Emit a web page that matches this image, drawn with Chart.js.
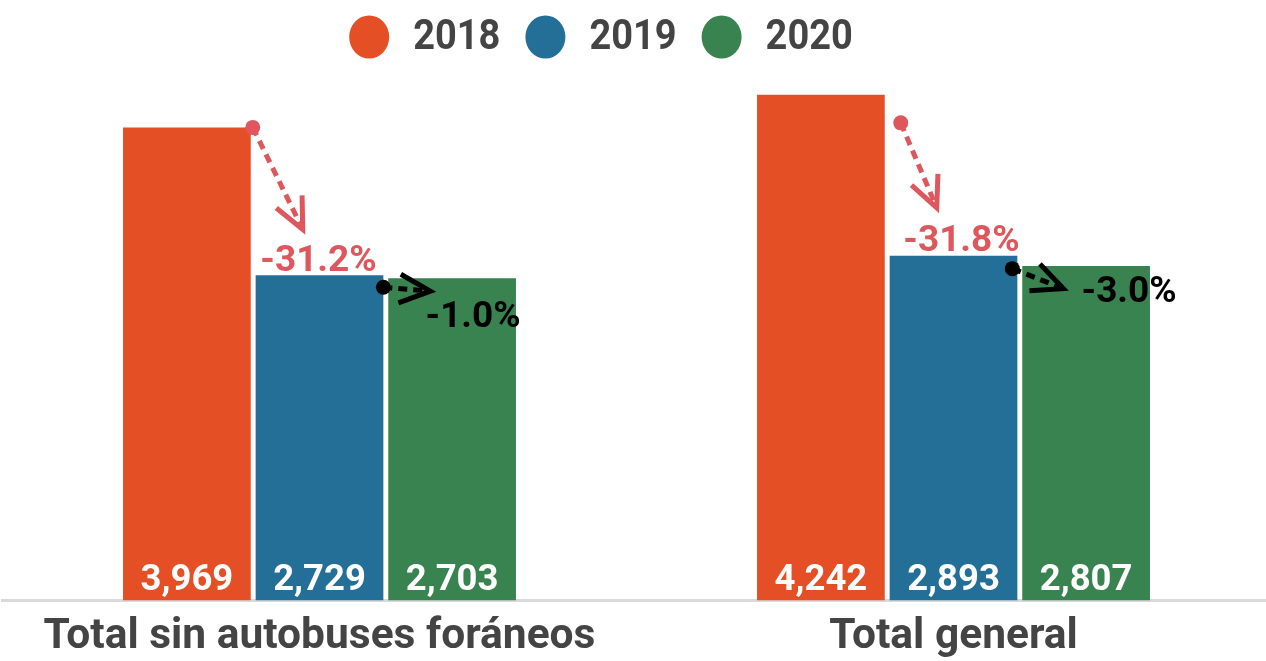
<!DOCTYPE html>
<html><head><meta charset="utf-8">
<script src="https://cdn.jsdelivr.net/npm/chart.js@4"></script>
<style>html,body{margin:0;padding:0;overflow:hidden;background:#fff;} #wrap{width:1272px;height:661px;}</style>
</head><body><div id="wrap"><canvas id="c" width="1272" height="661"></canvas></div>
<script>
const categories = ['Total sin autobuses foráneos', 'Total general'];
const years = ['2018', '2019', '2020'];
const values2018 = [3969, 4242];
const values2019 = [2729, 2893];
const values2020 = [2703, 2807];
const yMin = 0;
const yMax = 4400;

const barColors = ['#E44F25', '#236F97', '#398350'];
const textGray = '#444444';
const arrowColors = ['#DD575D', '#000000'];
// offsets (styling/layout only) for change annotations: [category][transition]
const arrowLayout = [
  [{dot:[2,0], tip:[50,102], label:[-1,-4]}, {dot:[0,12], tip:[47,4], label:[21,49]}],
  [{dot:[16,28], tip:[36,85], label:[8,-5]}, {dot:[-5,13], tip:[51,20], label:[43,36]}]
];
const FONT = 'Roboto, "Liberation Sans", sans-serif';

const legendPlugin = {
  id: 'customLegend',
  afterDraw(chart) {
    const ctx = chart.ctx;
    const cx = 601, cy = 37, r = 20, gapCT = 24, gapItems = 25, sy = 1.13;
    ctx.save();
    ctx.font = 'bold 38px ' + FONT;
    const items = chart.data.datasets.map(d => ({label: d.label, color: d.backgroundColor, w: ctx.measureText(d.label).width}));
    let total = 0;
    items.forEach((it, i) => { total += 2*r + gapCT + it.w + (i < items.length-1 ? gapItems : 0); });
    let x = cx - total/2;
    items.forEach(it => {
      ctx.fillStyle = it.color;
      ctx.beginPath();
      ctx.ellipse(x + r, cy, r, r*1.08, 0, 0, Math.PI*2);
      ctx.fill();
      x += 2*r + gapCT;
      ctx.save();
      ctx.translate(x, cy);
      ctx.scale(1, sy);
      ctx.fillStyle = textGray;
      ctx.textBaseline = 'middle';
      ctx.textAlign = 'left';
      ctx.fillText(it.label, 0, 1);
      ctx.restore();
      x += it.w + gapItems;
    });
    ctx.restore();
  }
};

const barLabelPlugin = {
  id: 'barLabels',
  afterDatasetsDraw(chart) {
    const ctx = chart.ctx;
    const bottom = chart.chartArea.bottom;
    ctx.save();
    ctx.font = 'bold 36.5px ' + FONT;
    ctx.fillStyle = '#ffffff';
    ctx.textAlign = 'center';
    ctx.textBaseline = 'alphabetic';
    chart.data.datasets.forEach((ds, di) => {
      const meta = chart.getDatasetMeta(di);
      meta.data.forEach((bar, i) => {
        ctx.fillText(ds.data[i].toLocaleString('en-US'), bar.x, bottom - 10.5);
      });
    });
    ctx.restore();
  }
};

const arrowPlugin = {
  id: 'changeArrows',
  afterDatasetsDraw(chart) {
    const ctx = chart.ctx;
    ctx.save();
    for (let i = 0; i < chart.data.labels.length; i++) {
      for (let j = 0; j < chart.data.datasets.length - 1; j++) {
        const fromBar = chart.getDatasetMeta(j).data[i];
        const toBar = chart.getDatasetMeta(j+1).data[i];
        const fromVal = chart.data.datasets[j].data[i];
        const toVal = chart.data.datasets[j+1].data[i];
        const lay = arrowLayout[i][j];
        const color = arrowColors[j];
        const dx = fromBar.x + fromBar.width/2 + lay.dot[0];
        const dy = fromBar.y + lay.dot[1];
        const tx = dx + lay.tip[0], ty = dy + lay.tip[1];
        const ang = Math.atan2(ty - dy, tx - dx);
        ctx.strokeStyle = color;
        ctx.fillStyle = color;
        ctx.lineWidth = 5;
        ctx.setLineDash([9, 6]);
        ctx.beginPath();
        ctx.moveTo(dx, dy);
        ctx.lineTo(tx - Math.cos(ang)*6, ty - Math.sin(ang)*6);
        ctx.stroke();
        ctx.setLineDash([]);
        const hl = 34, ha = 25 * Math.PI/180;
        ctx.lineJoin = 'miter';
        ctx.beginPath();
        ctx.moveTo(tx - hl*Math.cos(ang - ha), ty - hl*Math.sin(ang - ha));
        ctx.lineTo(tx, ty);
        ctx.lineTo(tx - hl*Math.cos(ang + ha), ty - hl*Math.sin(ang + ha));
        ctx.stroke();
        ctx.beginPath();
        ctx.arc(dx, dy, 7.5, 0, Math.PI*2);
        ctx.fill();
        const pct = (toVal - fromVal) / fromVal * 100;
        ctx.font = 'bold 37px ' + FONT;
        ctx.textAlign = 'center';
        ctx.textBaseline = 'alphabetic';
        ctx.fillText(pct.toFixed(1) + '%', toBar.x + lay.label[0], toBar.y + lay.label[1]);
      }
    }
    ctx.restore();
  }
};

function draw() {
  new Chart(document.getElementById('c'), {
    type: 'bar',
    data: {
      labels: categories,
      datasets: [
        {label: years[0], data: values2018, backgroundColor: barColors[0]},
        {label: years[1], data: values2019, backgroundColor: barColors[1]},
        {label: years[2], data: values2020, backgroundColor: barColors[2]}
      ]
    },
    options: {
      responsive: false,
      animation: false,
      devicePixelRatio: 1,
      layout: {padding: {left: 2.5, right: 1.5, top: 76, bottom: 0}},
      datasets: {bar: {categoryPercentage: 0.6275, barPercentage: 0.963, borderWidth: 0}},
      plugins: {legend: {display: false}, tooltip: {enabled: false}},
      scales: {
        x: {
          grid: {display: false, drawTicks: false},
          border: {display: true, color: '#d9d9d9', width: 3},
          ticks: {font: {family: FONT, size: 42.5, weight: 'bold'}, color: textGray, padding: 11, maxRotation: 0, autoSkip: false},
          afterFit(scale) { scale.height = 60.5; }
        },
        y: {display: false, min: yMin, max: yMax}
      }
    },
    plugins: [legendPlugin, barLabelPlugin, arrowPlugin]
  });
}
if (document.fonts && document.fonts.load) {
  Promise.all([document.fonts.load('bold 38px Roboto')]).then(draw, draw);
} else { draw(); }
</script>
</body></html>
